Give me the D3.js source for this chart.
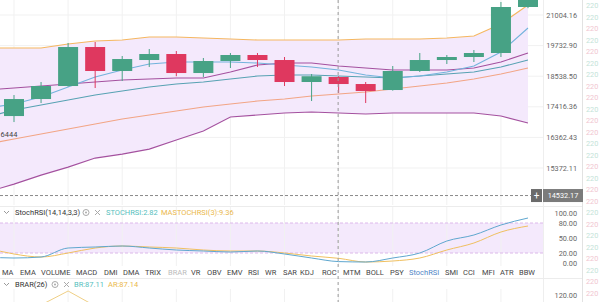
<!DOCTYPE html>
<html><head><meta charset="utf-8">
<script src="https://cdn.jsdelivr.net/npm/d3@7"></script>
<style>
html,body{margin:0;padding:0;background:#fff;overflow:hidden;}
svg{display:block;font-family:Roboto,"Noto Sans",sans-serif;}
</style></head><body>
<svg id="chart" width="600" height="302"></svg>
<script>
// Candles (20 visible bars).
const opens  = [17091,17695,18171,19676,18736,19161,19397,18659,19122,19358,19161,18320,18508,18245,18023,18736,19161,19279,19437,21350];
const highs  = [17840,18320,19837,19878,19318,19596,19516,19240,19437,19437,19279,18621,18540,18320,18928,19437,19358,19556,21569,22100];
const lows   = [16883,17551,18150,18097,18357,18889,18538,18508,18851,18889,18171,17623,17913,17551,18000,18697,19005,19083,19279,21300];
const closes = [17695,18171,19676,18736,19200,19397,18659,19122,19358,19161,18320,18538,18245,17986,18736,19161,19279,19437,21350,22014];

// Overlay lines, one value per bar starting one bar left of the screen.
const upperBand = [19636,19636,19636,19797,19919,19960,20083,20083,20042,20001,19960,19960,19960,19960,20001,20001,20001,20042,20124,20622,21437];
const lowerBand = [14633,14874,15150,15400,15686,15814,15976,16274,16576,17056,17126,17197,17231,17197,17161,17197,17197,17197,17197,17091,16849];
const maFast    = [17373,17515,17767,18134,18508,18774,19005,19083,19083,19083,19044,18966,18889,18774,18583,18470,18545,18697,18927,19477,20455];
const maMid     = [18023,18097,18171,18245,18320,18394,18432,18470,18470,18697,18966,19044,19044,18927,18851,18774,18774,18774,18851,19083,19437];
const maTeal    = [17056,17302,17480,17659,17840,17986,18134,18245,18320,18432,18545,18583,18583,18545,18508,18470,18545,18621,18697,18889,19161];
const maSlow    = [16141,16307,16475,16644,16814,16987,17126,17267,17409,17515,17623,17695,17804,17877,17949,18060,18171,18282,18432,18621,18851];

const priceTicks = [21004.16, 19732.90, 18538.50, 17416.36, 16362.43, 15372.11];
const lastPrice = 14532.17;
const lowMark = "6444";

// StochRSI pane
const stochK = [12,10,12,30,32,34,30,26,24,22,24,18,10,2.82,2,10,20,44,56,76,90];
const stochD = [30,18,12,20,30,34,32,30,26,24,24,20,14,9.36,2,4,10,26,40,62,74];
const stochTicks = [100, 80, 50, 20, 0];

// BRAR pane (only the top of AR is visible)
const arLine = [70,85,100,128,98,82,75,72,70,70,68,66,65,64,66,70,72,74,78,82,87];

const tabs = ["MA","EMA","VOLUME","MACD","DMI","DMA","TRIX","BRAR","VR","OBV","EMV","RSI","WR","SAR","KDJ","ROC","MTM","BOLL","PSY","StochRSI","SMI","CCI","MFI","ATR","BBW"];
const tabX = [2,20,41,76,104,123,145,168,191,207,227,248,265,283,300,322,343,366,390,409,445,463,482,500,519];
const crossIndex = 12;

const GREEN = "#47a285", RED = "#df385f";

const svg = d3.select("#chart");
const W = 600, H = 302;
const plotRight = 543;

const x = d3.scaleLinear().domain([0, 19]).range([14, 528]);
const y = d3.scaleLog().domain([15372.11, 21004.16]).range([168, 15]);
const ys = d3.scaleLinear().domain([0, 100]).range([263, 213]);
const yb = d3.scaleLinear().domain([80, 120]).range([315, 295]);

const defs = svg.append("defs");
defs.append("clipPath").attr("id", "mainClip").append("rect")
  .attr("x", 0).attr("y", 0).attr("width", plotRight).attr("height", 205);
defs.append("clipPath").attr("id", "stochClip").append("rect")
  .attr("x", 0).attr("y", 207).attr("width", plotRight).attr("height", 60);
defs.append("clipPath").attr("id", "brarClip").append("rect")
  .attr("x", 0).attr("y", 289).attr("width", plotRight).attr("height", 20);

const gridIdx = d3.range(0, 20, 2);

// Main pane
const main = svg.append("g").attr("clip-path", "url(#mainClip)");

main.selectAll(".hgrid").data(priceTicks).join("line")
  .attr("x1", 0).attr("x2", plotRight)
  .attr("y1", d => y(d)).attr("y2", d => y(d))
  .attr("stroke", "#f1f1f1");
main.selectAll(".vgrid").data(gridIdx).join("line")
  .attr("x1", d => x(d)).attr("x2", d => x(d))
  .attr("y1", 0).attr("y2", 205)
  .attr("stroke", "#f1f1f1");

const idx = d3.range(-1, 20);
const bandArea = d3.area()
  .x((d, i) => x(idx[i]))
  .y0((d, i) => y(lowerBand[i]))
  .y1(d => y(d));
main.append("path").attr("d", bandArea(upperBand)).attr("fill", "#f4e9fc");

const lineGen = d3.line().x((d, i) => x(idx[i])).y(d => y(d));
const overlays = [
  { values: upperBand, color: "#f5b760" },
  { values: lowerBand, color: "#a4519f" },
  { values: maSlow, color: "#f2a585" },
  { values: maTeal, color: "#57a2b3" },
  { values: maMid, color: "#a4519f" },
  { values: maFast, color: "#73b3dc" },
];
main.selectAll(".ov").data(overlays).join("path")
  .attr("d", d => lineGen(d.values))
  .attr("fill", "none")
  .attr("stroke", d => d.color)
  .attr("stroke-width", 1.1);

const candles = opens.map((o, i) => ({ i, o, h: highs[i], l: lows[i], c: closes[i] }));
const cg = main.selectAll(".candle").data(candles).join("g");
cg.append("line")
  .attr("x1", d => x(d.i)).attr("x2", d => x(d.i))
  .attr("y1", d => y(d.h)).attr("y2", d => y(d.l))
  .attr("stroke", d => d.c >= d.o ? GREEN : RED).attr("stroke-width", 1);
cg.append("rect")
  .attr("x", d => x(d.i) - 10).attr("width", 20)
  .attr("y", d => y(Math.max(d.o, d.c)))
  .attr("height", d => Math.max(1, Math.abs(y(d.o) - y(d.c))))
  .attr("fill", d => d.c >= d.o ? GREEN : RED);

// low price marker at left edge
svg.append("text").attr("x", 0.5).attr("y", 137)
  .attr("font-size", 7.5).attr("fill", "#444").text(lowMark);

// right price axis
svg.selectAll(".ptick").data(priceTicks).join("text")
  .attr("x", 577).attr("y", d => y(d) + 2.5)
  .attr("text-anchor", "end").attr("font-size", 7.3).attr("fill", "#666")
  .text(d => d.toFixed(2));

// axis border lines
svg.append("line").attr("x1", plotRight + 0.5).attr("x2", plotRight + 0.5)
  .attr("y1", 0).attr("y2", H).attr("stroke", "#eeeeee");
svg.append("line").attr("x1", 582.5).attr("x2", 582.5)
  .attr("y1", 0).attr("y2", H).attr("stroke", "#e2e2e2");

// separators
[206.5, 278.5].forEach(v => svg.append("line").attr("x1", 0).attr("x2", 582)
  .attr("y1", v).attr("y2", v).attr("stroke", "#ececec"));

// Stoch pane
const stoch = svg.append("g").attr("clip-path", "url(#stochClip)");
stoch.append("rect").attr("x", 0).attr("width", plotRight)
  .attr("y", ys(80)).attr("height", ys(20) - ys(80)).attr("fill", "#f4e9fc");
stoch.selectAll(".vg").data(gridIdx).join("line")
  .attr("x1", d => x(d)).attr("x2", d => x(d)).attr("y1", 207).attr("y2", 266)
  .attr("stroke", "#f1f1f1");
[80, 20].forEach(v => stoch.append("line").attr("x1", 0).attr("x2", plotRight)
  .attr("y1", ys(v)).attr("y2", ys(v))
  .attr("stroke", "#dcb8ea").attr("stroke-dasharray", "3,2"));
const stochLine = d3.line().x((d, i) => x(idx[i])).y(d => ys(d)).curve(d3.curveMonotoneX);
stoch.append("path").attr("d", stochLine(stochD)).attr("fill", "none")
  .attr("stroke", "#f0c060").attr("stroke-width", 1);
stoch.append("path").attr("d", stochLine(stochK)).attr("fill", "none")
  .attr("stroke", "#5fa7cf").attr("stroke-width", 1);

svg.selectAll(".stick").data(stochTicks).join("text")
  .attr("x", 577).attr("y", d => ys(d) + 2.5)
  .attr("text-anchor", "end").attr("font-size", 7.3).attr("fill", "#666")
  .text(d => d.toFixed(2));

// Stoch header
svg.append("path").attr("d", "M4,211 l2.5,2.5 l2.5,-2.5").attr("fill", "none").attr("stroke", "#999");
svg.append("text").attr("x", 15).attr("y", 215).attr("font-size", 7.5).attr("fill", "#333")
  .text("StochRSI(14,14,3,3)");
svg.append("circle").attr("cx", 86).attr("cy", 212.5).attr("r", 3).attr("fill", "none").attr("stroke", "#aaa");
svg.append("circle").attr("cx", 86).attr("cy", 212.5).attr("r", 1).attr("fill", "#aaa");
svg.append("path").attr("d", "M95,210 l5,5 M100,210 l-5,5").attr("stroke", "#aaa");
svg.append("text").attr("x", 106).attr("y", 215).attr("font-size", 7.5).attr("fill", "#56c0bd")
  .text("STOCHRSI:" + stochK[crossIndex + 1]);
svg.append("text").attr("x", 161).attr("y", 215).attr("font-size", 7.5).attr("fill", "#eab84c")
  .text("MASTOCHRSI(3):" + stochD[crossIndex + 1]);

// tabs
svg.selectAll(".tab").data(tabs).join("text")
  .attr("x", (d, i) => tabX[i]).attr("y", 274.5)
  .attr("font-size", 7.5)
  .attr("fill", d => d === "BRAR" ? "#bbb" : d === "StochRSI" ? "#4f86c6" : "#444")
  .text(d => d);

// BRAR header
svg.append("path").attr("d", "M4,283 l2.5,2.5 l2.5,-2.5").attr("fill", "none").attr("stroke", "#999");
svg.append("text").attr("x", 15).attr("y", 287).attr("font-size", 7.5).attr("fill", "#333").text("BRAR(26)");
svg.append("circle").attr("cx", 55).attr("cy", 284.5).attr("r", 3).attr("fill", "none").attr("stroke", "#aaa");
svg.append("circle").attr("cx", 55).attr("cy", 284.5).attr("r", 1).attr("fill", "#aaa");
svg.append("path").attr("d", "M64,282 l5,5 M69,282 l-5,5").attr("stroke", "#aaa");
svg.append("text").attr("x", 74).attr("y", 287).attr("font-size", 7.5).attr("fill", "#56c0bd").text("BR:87.11");
svg.append("text").attr("x", 108).attr("y", 287).attr("font-size", 7.5).attr("fill", "#eab84c").text("AR:87.14");

const brar = svg.append("g").attr("clip-path", "url(#brarClip)");
brar.selectAll(".vg").data(gridIdx).join("line")
  .attr("x1", d => x(d)).attr("x2", d => x(d)).attr("y1", 289).attr("y2", H)
  .attr("stroke", "#f1f1f1");
brar.append("path")
  .attr("d", d3.line().x((d, i) => x(idx[i])).y(d => yb(d))(arLine))
  .attr("fill", "none").attr("stroke", "#efcf85").attr("stroke-width", 1);
svg.append("text").attr("x", 577).attr("y", yb(120) + 2.5).attr("text-anchor", "end")
  .attr("font-size", 7.3).attr("fill", "#666").text("120.00");

// crosshair
svg.append("line").attr("x1", x(crossIndex) - 0.5).attr("x2", x(crossIndex) - 0.5)
  .attr("y1", 0).attr("y2", H).attr("stroke", "#9a9a9a").attr("stroke-dasharray", "3,3");
svg.append("line").attr("x1", 0).attr("x2", 531).attr("y1", y(lastPrice)).attr("y2", y(lastPrice))
  .attr("stroke", "#8a8a8a").attr("stroke-dasharray", "3,2");
svg.append("rect").attr("x", 531).attr("y", y(lastPrice) - 6.5).attr("width", 11).attr("height", 13).attr("fill", "#6b6b6b");
svg.append("text").attr("x", 536.5).attr("y", y(lastPrice) + 3.5).attr("text-anchor", "middle")
  .attr("font-size", 10).attr("fill", "#fff").text("+");
svg.append("rect").attr("x", 543).attr("y", y(lastPrice) - 6.5).attr("width", 40).attr("height", 13).attr("fill", "#7b7b7b");
svg.append("text").attr("x", 563).attr("y", y(lastPrice) + 2.5).attr("text-anchor", "middle")
  .attr("font-size", 7.3).attr("fill", "#fff").text(lastPrice.toFixed(2));

// faint trade column at the right edge
const tradeSides = ["b","b","s","b","s","b","b","s","s","b","s","s","b","b","s","b","s","s","b","s","b","b","s","b","s","s"];
svg.selectAll(".trade").data(tradeSides).join("text")
  .attr("x", 586).attr("y", (d, i) => 8 + i * 11.5)
  .attr("font-size", 7.3)
  .attr("fill", d => d === "b" ? "#c4e3d8" : "#f1c6d0")
  .text("220");
</script>
</body></html>
